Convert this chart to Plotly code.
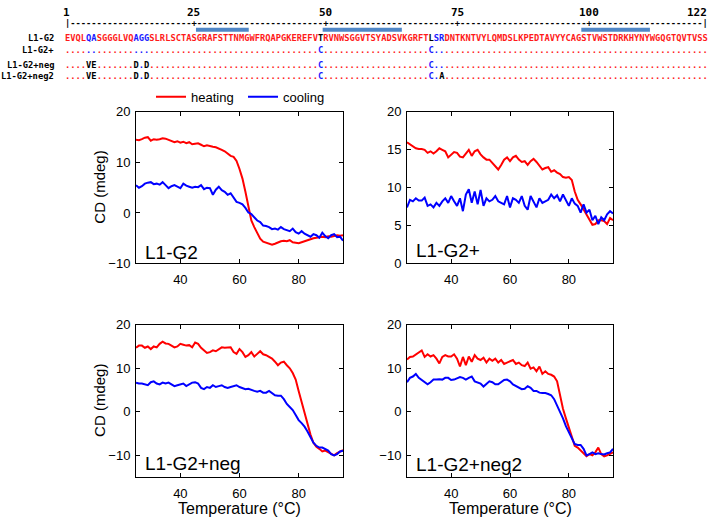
import plotly.graph_objects as go

# ---------------- data ----------------
temperature = list(range(25, 96))

heat_g2 = [14.5, 14.4, 14.6, 14.9, 15.0, 14.3, 14.6, 14.5, 14.6, 14.8, 14.7, 14.5, 14.3, 14.0, 14.2,
           13.9, 14.1, 13.8, 14.0, 13.6, 13.7, 13.8, 13.5, 13.2, 13.4, 13.2, 13.1, 13.0, 12.8, 12.5,
           12.2, 11.8, 11.3, 11.1, 10.3, 8.7, 6.8, 4.2, 1.0, -1.5, -2.8, -4.1, -5.1, -5.7, -5.9,
           -6.0, -6.3, -6.1, -5.8, -5.6, -5.5, -5.6, -5.4, -5.8, -5.9, -6.0, -5.8, -5.6, -5.3, -5.1,
           -5.0, -4.9, -4.8, -4.7, -4.8, -4.6, -4.7, -4.5, -4.4, -4.5, -4.4]
cool_g2 = [5.5, 5.0, 5.3, 5.8, 6.0, 6.1, 5.7, 5.8, 5.6, 6.1, 5.5, 4.9, 5.3, 5.5, 5.2,
           4.9, 5.8, 5.4, 5.2, 5.0, 5.2, 5.1, 5.5, 4.7, 5.0, 4.9, 3.6, 4.6, 5.2, 4.5,
           4.2, 3.6, 3.9, 3.0, 2.2, 2.0, 1.7, 1.0, 0.1, -0.2, -0.9, -1.5, -1.8, -2.5, -2.6,
           -2.8, -3.2, -3.1, -3.3, -2.8, -3.2, -3.4, -3.6, -3.1, -3.8, -4.1, -3.6, -4.1, -4.4, -4.7,
           -4.2, -4.4, -4.9, -3.9, -4.6, -5.0, -4.4, -4.2, -4.8, -4.7, -5.5]

heat_g2p = [16.0, 15.7, 15.5, 15.2, 15.1, 15.1, 15.0, 14.6, 14.8, 14.5, 14.8, 15.2, 15.0, 14.8, 14.0,
            14.4, 14.7, 14.6, 14.1, 14.0, 14.5, 15.0, 14.2, 14.8, 15.0, 14.4, 14.0, 13.7, 13.7, 13.3,
            12.9, 12.4, 13.0, 13.7, 14.0, 13.5, 14.0, 14.2, 13.7, 13.4, 13.5, 13.0, 13.5, 13.8, 13.4,
            12.9, 12.4, 12.6, 12.7, 12.1, 12.3, 12.0, 11.8, 11.4, 11.3, 11.4, 11.0, 9.5, 8.4, 7.8,
            7.1, 6.5, 5.7, 5.1, 5.2, 5.7, 5.7, 5.6, 5.2, 6.0, 5.7]
cool_g2p = [7.4, 8.4, 8.2, 8.6, 8.3, 8.3, 8.7, 7.6, 7.8, 7.4, 8.0, 7.6, 8.2, 8.6, 8.0,
            8.9, 8.2, 7.6, 8.6, 6.9, 9.1, 9.8, 8.0, 9.5, 7.8, 9.7, 7.6, 8.6, 8.2, 8.4,
            8.9, 8.2, 8.0, 7.8, 8.9, 7.4, 8.6, 8.4, 8.0, 8.9, 7.6, 7.1, 8.9, 8.2, 7.4,
            8.6, 8.0, 8.2, 8.4, 9.1, 8.6, 9.0, 8.2, 9.1, 8.3, 7.6, 8.6, 7.9, 7.6, 6.7,
            7.8, 6.7, 7.1, 5.7, 6.3, 5.2, 6.1, 5.7, 6.5, 6.9, 6.6]

heat_neg = [14.7, 15.2, 15.2, 14.7, 15.0, 14.4, 15.0, 14.8, 15.6, 16.1, 15.7, 15.6, 15.2, 14.8, 15.0,
            15.6, 15.4, 15.2, 15.3, 14.8, 15.9, 15.6, 14.7, 14.1, 13.5, 13.7, 14.1, 13.9, 14.4, 14.8,
            14.7, 14.8, 14.8, 13.7, 13.3, 14.4, 13.7, 12.6, 13.0, 13.7, 12.7, 13.3, 13.9, 13.2, 13.0,
            12.6, 12.2, 11.5, 10.7, 11.3, 11.5, 10.7, 10.0, 8.9, 7.4, 4.8, 2.2, -0.4, -3.0, -5.2,
            -7.1, -8.0, -8.5, -9.1, -8.9, -9.3, -9.7, -10.0, -9.5, -9.1, -8.8]
cool_neg = [6.7, 6.5, 6.5, 6.3, 6.1, 6.8, 7.0, 6.5, 6.3, 6.7, 6.5, 6.7, 6.3, 5.9, 6.1,
            6.3, 6.5, 5.9, 6.3, 6.7, 6.8, 6.5, 5.5, 5.2, 5.7, 5.5, 6.1, 5.7, 5.9, 6.1,
            5.7, 5.5, 5.7, 5.9, 6.1, 5.7, 5.5, 5.2, 5.3, 5.0, 4.8, 4.6, 4.8, 4.4, 4.4,
            4.8, 4.3, 3.8, 3.7, 3.7, 2.9, 1.8, 1.1, 0.4, -0.7, -1.9, -2.6, -3.4, -4.5, -6.0,
            -7.1, -7.8, -8.2, -8.2, -8.5, -8.9, -9.7, -10.0, -9.7, -9.1, -8.9]

heat_neg2 = [12.0, 12.6, 12.7, 13.2, 13.5, 14.1, 12.6, 13.2, 12.7, 13.0, 12.2, 11.1, 12.6, 13.0, 12.7,
             12.7, 13.2, 12.2, 10.4, 12.6, 10.7, 12.7, 11.5, 13.0, 12.2, 11.9, 12.4, 11.3, 12.2, 11.7,
             12.2, 11.3, 11.9, 11.0, 11.3, 11.7, 11.9, 11.0, 11.3, 10.7, 10.5, 11.3, 9.9, 10.2, 9.3,
             10.4, 8.7, 9.3, 8.7, 8.5, 8.1, 7.0, 3.7, 0.7, -1.5, -3.7, -6.0, -7.8, -8.2, -8.9,
             -9.7, -10.2, -9.7, -10.0, -9.3, -8.2, -9.7, -10.2, -10.0, -9.7, -9.3]
cool_neg2 = [6.8, 7.8, 8.1, 8.7, 7.8, 7.3, 6.7, 6.3, 6.8, 7.4, 7.4, 7.5, 7.4, 7.8, 7.8,
             7.3, 7.4, 7.8, 8.0, 7.8, 7.4, 7.8, 8.1, 7.0, 6.8, 6.5, 5.8, 6.3, 7.0, 6.8,
             6.3, 6.3, 6.8, 7.3, 7.4, 7.0, 6.3, 5.9, 5.5, 5.2, 5.3, 5.9, 5.5, 4.8, 4.8,
             4.4, 4.3, 4.3, 4.1, 3.8, 2.9, 1.5, 0.0, -1.5, -3.3, -4.8, -6.3, -7.4, -7.6, -7.6,
             -8.5, -10.0, -9.7, -9.3, -9.7, -9.5, -9.7, -9.8, -9.5, -9.3, -8.5]

panel_names = ["L1-G2", "L1-G2+", "L1-G2+neg", "L1-G2+neg2"]
heating = [heat_g2, heat_g2p, heat_neg, heat_neg2]
cooling = [cool_g2, cool_g2p, cool_neg, cool_neg2]
y_ranges = [[-10, 20], [0, 20], [-15, 20], [-15, 20]]
y_ticks = [[-10, 0, 10, 20], [0, 5, 10, 15, 20], [-10, 0, 10, 20], [-10, 0, 10, 20]]
x_ticks = [40, 60, 80]
x_title = "Temperature (°C)"
y_title = "CD (mdeg)"

# sequence alignment
wt_seq = "EVQLQASGGGLVQAGGSLRLSCTASGRAFSTTNMGWFRQAPGKEREFVTRVNWSGGVTSYADSVKGRFTLSRDNTKNTVYLQMDSLKPEDTAVYYCAGSTVWSTDRKHYNYWGQGTQVTVSS"
row_names = ["L1-G2", "L1-G2+", "L1-G2+neg", "L1-G2+neg2"]
mutations = [{}, {49: "C", 70: "C"},
             {5: "V", 6: "E", 14: "D", 16: "D", 49: "C", 70: "C"},
             {5: "V", 6: "E", 14: "D", 16: "D", 49: "C", 70: "C", 72: "A"}]
blue_positions = [5, 6, 14, 15, 16, 71, 72]
black_positions = [49, 70]
ruler_labels = [1, 25, 50, 75, 100, 122]
cdr_start = [26, 50, 99]
cdr_end = [35, 64, 111]

# ---------------- styling ----------------
W, H = 709, 526
RED, BLUE = "#ff0000", "#0000ff"
SEQ_RED, SEQ_BLUE = "#ff1a1a", "#1a1aff"
FONT = "Liberation Sans, Arial, Helvetica, sans-serif"
MONO = "DejaVu Sans Mono, Liberation Mono, monospace"


def px(x):
    return x / W


def py(y):
    return 1 - y / H


boxes = [(136, 343, 108, 264), (407, 613, 108, 264), (136, 343, 327, 484), (407, 613, 327, 484)]
label_pos = [(143, 253), (414, 251), (143, 470), (414, 471)]

fig = go.Figure()
layout = dict(width=W, height=H, margin=dict(l=0, r=0, t=0, b=0),
              paper_bgcolor="white", plot_bgcolor="white",
              font=dict(family=FONT, size=13, color="black"),
              showlegend=True)
annotations = []

for i in range(4):
    k = i + 1
    xa, ya = ("x%d" % k if k > 1 else "x"), ("y%d" % k if k > 1 else "y")
    fig.add_trace(go.Scatter(x=temperature, y=heating[i], mode="lines", xaxis=xa, yaxis=ya,
                             line=dict(color=RED, width=2), name="heating", showlegend=(i == 0)))
    fig.add_trace(go.Scatter(x=temperature, y=cooling[i], mode="lines", xaxis=xa, yaxis=ya,
                             line=dict(color=BLUE, width=2), name="cooling", showlegend=(i == 0)))
    x0, x1, y0, y1 = boxes[i]
    axname = "" if k == 1 else str(k)
    layout["xaxis" + axname] = dict(
        domain=[px(x0), px(x1)], range=[25, 95], anchor=ya, tickvals=x_ticks,
        showline=True, linecolor="black", linewidth=1, mirror="ticks", ticks="inside",
        ticklen=4, tickcolor="black", showgrid=False, zeroline=False,
        tickfont=dict(size=13), ticklabelstandoff=4)
    layout["yaxis" + axname] = dict(
        domain=[py(y1), py(y0)], range=y_ranges[i], anchor=xa, tickvals=y_ticks[i],
        showline=True, linecolor="black", linewidth=1, mirror="ticks", ticks="inside",
        ticklen=4, tickcolor="black", showgrid=False, zeroline=False,
        tickfont=dict(size=13), ticklabelstandoff=2)
    lx, ly = label_pos[i]
    annotations.append(dict(x=px(lx), y=py(ly), xref="paper", yref="paper", xanchor="left",
                            yanchor="middle", text=panel_names[i], showarrow=False,
                            font=dict(size=19, family=FONT)))
    if i in (0, 2):
        annotations.append(dict(x=px(100), y=py((y0 + y1) / 2), xref="paper", yref="paper",
                                xanchor="center", yanchor="middle", textangle=-90, text=y_title,
                                showarrow=False, font=dict(size=15, family=FONT)))
    if i >= 2:
        annotations.append(dict(x=px((x0 + x1) / 2), y=0, xref="paper", yref="paper",
                                xanchor="center", yanchor="bottom", text=x_title, borderpad=0,
                                showarrow=False, font=dict(size=16, family=FONT)))

# sequence panel axis (residue units horizontally, pixel rows vertically)
layout["xaxis5"] = dict(domain=[px(64), px(708)], range=[0.5, 122.5], anchor="y5", visible=False)
layout["yaxis5"] = dict(domain=[py(80), 1], range=[80, 0], anchor="x5", visible=False)

for s, e in zip(cdr_start, cdr_end):
    fig.add_trace(go.Scatter(x=[s - 0.5, e + 0.5], y=[23.5, 23.5], mode="lines", xaxis="x5", yaxis="y5",
                             line=dict(color="#4f86c6", width=4), showlegend=False, hoverinfo="skip"))

SEQ_SIZE = 644 / 122 / 0.602


def colored(chars_colors):
    out, cur, buf = [], None, ""
    for ch, col in chars_colors:
        if col != cur and buf:
            out.append('<span style="color:%s">%s</span>' % (cur, buf))
            buf = ""
        cur = col
        buf += ch
    if buf:
        out.append('<span style="color:%s">%s</span>' % (cur, buf))
    return "".join(out)


row_y = [32, 44, 60, 71]
for r in range(4):
    items = []
    for pos, aa in enumerate(wt_seq, start=1):
        if r == 0:
            col = SEQ_BLUE if pos in blue_positions else ("black" if pos in black_positions else SEQ_RED)
            items.append((aa, col))
        else:
            m = mutations[r]
            if pos in m:
                items.append((m[pos], SEQ_BLUE if m[pos] == "C" else "black"))
            else:
                items.append((".", SEQ_BLUE if pos in blue_positions else SEQ_RED))
    annotations.append(dict(x=0.5, y=row_y[r], xref="x5", yref="y5", xanchor="left", yanchor="middle",
                            text=colored(items), showarrow=False, borderpad=0,
                            font=dict(family=MONO, size=SEQ_SIZE, weight="bold")))
    annotations.append(dict(x=px(55), y=py(row_y[r]), xref="paper", yref="paper", xanchor="right",
                            yanchor="middle", text=row_names[r], showarrow=False, borderpad=0,
                            font=dict(family=MONO, size=SEQ_SIZE, weight="bold", color="black")))

ruler = ""
for pos in range(1, len(wt_seq) + 1):
    if pos == 1 or pos == len(wt_seq):
        ruler += "|"
    elif pos in ruler_labels:
        ruler += "+"
    else:
        ruler += "-"
annotations.append(dict(x=0.5, y=16, xref="x5", yref="y5", xanchor="left", yanchor="middle",
                        text=ruler, showarrow=False, borderpad=0,
                        font=dict(family=MONO, size=SEQ_SIZE, weight="bold", color="black")))
for lab in ruler_labels:
    anchor = "right" if lab == ruler_labels[-1] else "center"
    xx = lab + 0.5 if anchor == "right" else lab
    annotations.append(dict(x=xx, y=6, xref="x5", yref="y5", xanchor=anchor, yanchor="middle",
                            text=str(lab), showarrow=False, borderpad=0,
                            font=dict(family=MONO, size=11, weight="bold", color="black")))

layout["annotations"] = annotations
layout["legend"] = dict(orientation="h", x=px(151), y=py(77), xanchor="left", yanchor="top",
                        font=dict(size=13, family=FONT), bgcolor="rgba(0,0,0,0)",
                        entrywidth=47, entrywidthmode="pixels", itemwidth=30)
fig.update_layout(**layout)
fig.write_html("out.html", config={"displayModeBar": False},
               post_script="document.body.style.margin='0px';")
